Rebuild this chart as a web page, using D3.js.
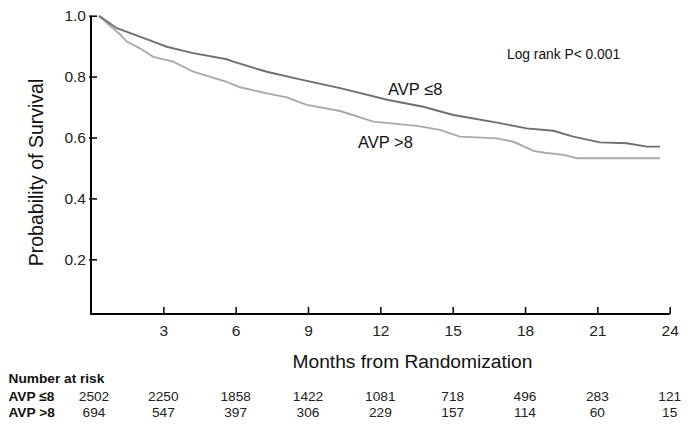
<!DOCTYPE html>
<html><head><meta charset="utf-8">
<script src="https://cdn.jsdelivr.net/npm/d3@7"></script>
<style>
body{margin:0;background:#fff;}
svg{display:block;font-family:"Liberation Sans",Arial,sans-serif;}
</style></head>
<body><svg id="c" width="695" height="429"></svg>
<script>
// Data
const lowMonths = [0.33,1.07,2.03,3.14,4.24,5.63,5.90,7.29,8.67,10.33,12.33,13.78,15.03,16.96,18.07,19.17,20.00,21.11,22.22,23.05,23.60];
const lowSurv   = [1.000,0.959,0.931,0.898,0.877,0.857,0.849,0.816,0.791,0.762,0.723,0.701,0.674,0.647,0.630,0.622,0.603,0.584,0.581,0.570,0.570];
const highMonths = [0.33,0.79,1.20,1.48,2.03,2.58,3.41,4.24,5.63,6.18,7.29,8.12,8.95,10.33,11.71,13.51,14.48,15.30,16.83,17.52,18.35,18.82,19.59,20.16,23.60];
const highSurv   = [1.000,0.967,0.939,0.915,0.893,0.865,0.849,0.816,0.783,0.765,0.745,0.732,0.707,0.687,0.652,0.638,0.625,0.603,0.597,0.586,0.556,0.550,0.543,0.532,0.532];
const xTicks = [3,6,9,12,15,18,21,24];
const yTicks = [0.2,0.4,0.6,0.8,1.0];
const riskMonths = [0,3,6,9,12,15,18,21,24];
const riskLow  = [2502,2250,1858,1422,1081,718,496,283,121];
const riskHigh = [694,547,397,306,229,157,114,60,15];
const seriesNames = ["AVP \u22648","AVP >8"];

const svg = d3.select("#c");
const x = d3.scaleLinear().domain([0,24]).range([91,669.7]);
const y = d3.scaleLinear().domain([0,1]).range([320.2,15.7]);
const axisY = 314;
const FF = "Liberation Sans, Arial, sans-serif";

// axes lines
svg.append("line").attr("x1",x(0)).attr("x2",x(0)).attr("y1",y(1)).attr("y2",axisY)
  .attr("stroke","#000").attr("stroke-width",2);
svg.append("line").attr("x1",x(0)-1).attr("x2",x(24)).attr("y1",axisY).attr("y2",axisY)
  .attr("stroke","#000").attr("stroke-width",2);

// y axis ticks & labels
const ya = svg.append("g").attr("transform",`translate(${x(0)},0)`)
  .call(d3.axisLeft(y).tickValues(yTicks).tickSize(-6).tickPadding(5).tickFormat(d3.format(".1f")));
ya.select(".domain").remove();
ya.selectAll(".tick line").attr("x1",-2).attr("stroke","#000").attr("stroke-width",1.5);
ya.selectAll(".tick text").attr("font-size",15.5).attr("fill","#222").attr("font-family",FF);

// x axis ticks & labels
const xa = svg.append("g").attr("transform",`translate(0,${axisY})`)
  .call(d3.axisBottom(x).tickValues(xTicks).tickSize(-7).tickPadding(11));
xa.select(".domain").remove();
xa.selectAll(".tick line").attr("stroke","#000").attr("stroke-width",1.5);
xa.selectAll(".tick text").attr("font-size",15.5).attr("fill","#222").attr("font-family",FF);

// curves
const line = d3.line().x(d=>x(d[0])).y(d=>y(d[1]));
svg.append("path").datum(d3.zip(highMonths,highSurv)).attr("d",line)
  .attr("fill","none").attr("stroke","#a9a9a9").attr("stroke-width",1.9);
svg.append("path").datum(d3.zip(lowMonths,lowSurv)).attr("d",line)
  .attr("fill","none").attr("stroke","#6f6f6f").attr("stroke-width",1.9);

// annotations
svg.append("text").attr("x",388).attr("y",95).attr("font-size",16.5).attr("fill","#111").text(seriesNames[0]);
svg.append("text").attr("x",358).attr("y",148).attr("font-size",16.5).attr("fill","#111").text(seriesNames[1]);
svg.append("text").attr("x",507).attr("y",59).attr("font-size",13.8).attr("fill","#111").text("Log rank P< 0.001");

// axis titles
svg.append("text").attr("transform","translate(43,172.5) rotate(-90)").attr("text-anchor","middle")
  .attr("font-size",19.5).attr("fill","#111").text("Probability of Survival");
svg.append("text").attr("x",412.5).attr("y",368).attr("text-anchor","middle")
  .attr("font-size",19.2).attr("fill","#111").text("Months from Randomization");

// risk table
svg.append("text").attr("x",8.5).attr("y",383).attr("font-size",13.7).attr("font-weight","bold").attr("fill","#111").text("Number at risk");
svg.append("text").attr("x",8.5).attr("y",400.5).attr("font-size",13.7).attr("font-weight","bold").attr("fill","#111").text(seriesNames[0]);
svg.append("text").attr("x",8.5).attr("y",417).attr("font-size",13.7).attr("font-weight","bold").attr("fill","#111").text(seriesNames[1]);
svg.append("g").selectAll("text").data(d3.zip(riskMonths,riskLow)).join("text")
  .attr("x",d=>x(d[0])+(d[0]===0?3:0)).attr("y",400.5).attr("text-anchor","middle").attr("font-size",13.7).attr("fill","#222").text(d=>d[1]);
svg.append("g").selectAll("text").data(d3.zip(riskMonths,riskHigh)).join("text")
  .attr("x",d=>x(d[0])+(d[0]===0?3:0)).attr("y",417).attr("text-anchor","middle").attr("font-size",13.7).attr("fill","#222").text(d=>d[1]);
</script></body></html>
